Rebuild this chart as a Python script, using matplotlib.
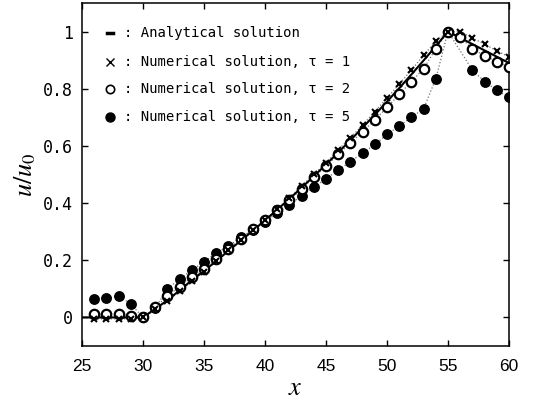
import numpy as np
import matplotlib
matplotlib.use('Agg')
import matplotlib.pyplot as plt

plt.rcParams['mathtext.fontset'] = 'stix'

# x positions of grid points
x_num = [26, 27, 28, 29, 30, 31, 32, 33, 34, 35, 36, 37, 38, 39, 40, 41, 42, 43,
         44, 45, 46, 47, 48, 49, 50, 51, 52, 53, 54, 55, 56, 57, 58, 59, 60]

# analytical solution
x_ana = [25, 26, 27, 28, 29, 30, 31, 32, 33, 34, 35, 36, 37, 38, 39, 40, 41, 42, 43,
         44, 45, 46, 47, 48, 49, 50, 51, 52, 53, 54, 55, 56, 57, 58, 59, 60]
u_ana = [0, 0, 0, 0, 0, 0, 0.03, 0.06, 0.095, 0.13, 0.163, 0.197, 0.233, 0.268,
         0.303, 0.34, 0.377, 0.415, 0.454, 0.494, 0.535, 0.577, 0.62, 0.664, 0.709,
         0.755, 0.802, 0.85, 0.899, 0.949, 1.0, 0.978, 0.956, 0.934, 0.912, 0.89]

# numerical, tau = 1
u_tau1 = [-0.005, -0.005, -0.005, -0.005, 0.0, 0.028, 0.057, 0.092, 0.127, 0.159,
          0.197, 0.236, 0.27, 0.305, 0.34, 0.378, 0.417, 0.46, 0.5, 0.541, 0.586,
          0.629, 0.673, 0.72, 0.767, 0.816, 0.866, 0.917, 0.967, 1.0, 1.0, 0.977,
          0.956, 0.932, 0.912]

# numerical, tau = 2
u_tau2 = [0.012, 0.012, 0.013, 0.006, 0.0, 0.035, 0.075, 0.108, 0.14, 0.17, 0.205,
          0.24, 0.275, 0.31, 0.34, 0.375, 0.41, 0.45, 0.49, 0.53, 0.57, 0.61, 0.65,
          0.69, 0.735, 0.78, 0.825, 0.87, 0.94, 1.0, 0.98, 0.94, 0.915, 0.895, 0.875]

# numerical, tau = 5 (no point visible at x = 56)
x_tau5 = [26, 27, 28, 29, 30, 31, 32, 33, 34, 35, 36, 37, 38, 39, 40, 41, 42, 43,
          44, 45, 46, 47, 48, 49, 50, 51, 52, 53, 54, 55, 57, 58, 59, 60]
u_tau5 = [0.065, 0.068, 0.075, 0.047, 0.0, 0.033, 0.1, 0.135, 0.165, 0.195, 0.225,
          0.25, 0.28, 0.305, 0.335, 0.365, 0.395, 0.425, 0.455, 0.485, 0.515, 0.545,
          0.575, 0.605, 0.64, 0.67, 0.7, 0.73, 0.835, 1.0, 0.865, 0.825, 0.795, 0.77]

legend_labels = [': Analytical solution',
                 ': Numerical solution, τ = 1',
                 ': Numerical solution, τ = 2',
                 ': Numerical solution, τ = 5']

fig = plt.figure(figsize=(5.34, 4.03), dpi=100)
ax = fig.add_axes([0.1536, 0.1414, 0.7996, 0.8512])

dot = dict(color='0.45', linestyle=':', linewidth=0.9)
ax.plot(x_tau5, u_tau5, **dot, zorder=2)
ax.plot(x_num, u_tau2, **dot, zorder=2)
ax.plot(x_num, u_tau1, **dot, zorder=2)
ax.plot(x_ana, u_ana, color='black', linewidth=1.5, zorder=3)

ax.plot(x_tau5, u_tau5, linestyle='none', marker='o', markersize=6.8,
        markerfacecolor='black', markeredgecolor='black', zorder=4)
ax.plot(x_num, u_tau2, linestyle='none', marker='o', markersize=6.8,
        markerfacecolor='white', markeredgecolor='black', markeredgewidth=1.6, zorder=5)
ax.plot(x_num, u_tau1, linestyle='none', marker='x', markersize=5,
        color='black', markeredgewidth=1.5, zorder=6)

ax.set_xlim(25, 60)
ax.set_ylim(-0.1, 1.1)
ax.set_xticks([25, 30, 35, 40, 45, 50, 55, 60])
ax.set_yticks([0, 0.2, 0.4, 0.6, 0.8, 1.0])
ax.set_yticklabels(['0', '0.2', '0.4', '0.6', '0.8', '1'],
                   family=['DejaVu Sans Mono'], fontsize=12)
ax.set_xticklabels(['25', '30', '35', '40', '45', '50', '55', '60'],
                   family=['Liberation Sans Narrow', 'Liberation Sans', 'DejaVu Sans'],
                   fontsize=12.5)
ax.tick_params(direction='in', top=True, right=True, length=4, width=1)
ax.tick_params(axis='x', pad=9)
ax.tick_params(axis='y', pad=6.5)
for s in ax.spines.values():
    s.set_linewidth(1.1)

ax.set_xlabel('$x$', fontsize=19, labelpad=1)
ax.set_ylabel('$u/u_0$', fontsize=19, labelpad=3)

# hand-made legend
rows = [0.994, 0.893, 0.798, 0.70]
mx = 27.3
ax.plot([mx - 0.25, mx + 0.25], [rows[0], rows[0]], color='black', linewidth=2.5)
ax.plot([mx], [rows[1]], marker='x', markersize=5.5, color='black', markeredgewidth=1.0)
ax.plot([mx], [rows[2]], marker='o', markersize=6, markerfacecolor='white',
        markeredgecolor='black', markeredgewidth=1.2)
ax.plot([mx], [rows[3]], marker='o', markersize=6.5, color='black')
for r, lab in zip(rows, legend_labels):
    ax.text(28.4, r, lab, family=['DejaVu Sans Mono'], fontsize=10,
            va='center', ha='left')

fig.savefig('out.png', dpi=100)
